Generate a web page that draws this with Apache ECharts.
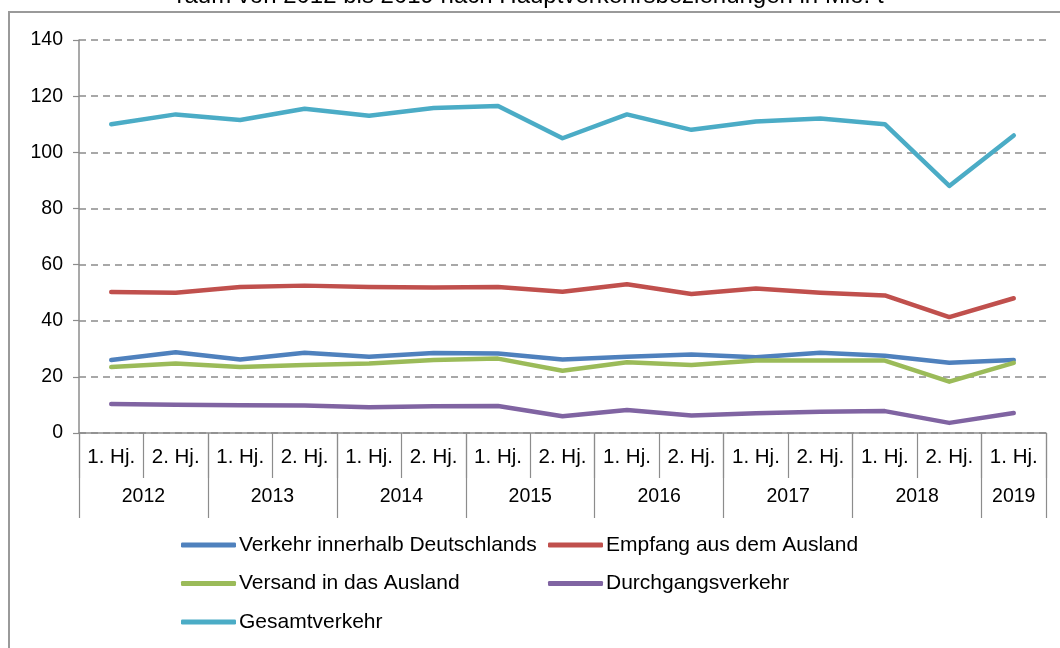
<!DOCTYPE html>
<html>
<head>
<meta charset="utf-8">
<script src="https://cdn.jsdelivr.net/npm/echarts@6/dist/echarts.min.js"></script>
<style>
html,body{margin:0;padding:0;background:#fff;overflow:hidden;}
#frame{position:absolute;left:8px;top:11px;width:1100px;height:700px;border-left:2px solid #9a9a9a;border-top:2px solid #9a9a9a;}
#c{position:absolute;left:0;top:0;width:1060px;height:648px;}
</style>
</head>
<body>
<div id="frame"></div>
<div id="c"></div>
<script>
const halfYears = ['1. Hj.','2. Hj.','1. Hj.','2. Hj.','1. Hj.','2. Hj.','1. Hj.','2. Hj.','1. Hj.','2. Hj.','1. Hj.','2. Hj.','1. Hj.','2. Hj.','1. Hj.'];
const years = ['2012','2013','2014','2015','2016','2017','2018','2019'];
const yearTickPos = [0,2,4,6,8,10,12,14,15];
const yearLabelPos = [1,3,5,7,9,11,13,14.5];
const yTicks = [0,20,40,60,80,100,120,140];

const innerhalb = [26, 28.8, 26.2, 28.6, 27.2, 28.5, 28.3, 26.2, 27.2, 28, 27, 28.6, 27.5, 25, 26];
const empfang   = [50.2, 50, 52, 52.5, 52, 51.8, 52, 50.3, 53, 49.5, 51.5, 50, 49, 41.3, 48];
const versand   = [23.5, 24.8, 23.5, 24.2, 24.8, 26, 26.5, 22.2, 25.2, 24.2, 25.8, 25.8, 25.8, 18.3, 25];
const durchgang = [10.3, 10.1, 9.9, 9.8, 9.2, 9.5, 9.6, 6, 8.2, 6.2, 7, 7.6, 7.8, 3.6, 7.1];
const gesamt    = [110, 113.5, 111.5, 115.5, 113, 115.8, 116.5, 105, 113.5, 108, 111, 112, 110, 88, 106];

const names = ['Verkehr innerhalb Deutschlands','Empfang aus dem Ausland','Versand in das Ausland','Durchgangsverkehr','Gesamtverkehr'];
const colors = ['#4F81BD','#C0504D','#9BBB59','#8064A2','#4BACC6'];
const values = [innerhalb, empfang, versand, durchgang, gesamt];

const FONT = 'Liberation Sans, Arial, sans-serif';
const axisGrey = '#8c8c8c';

const chart = echarts.init(document.getElementById('c'));
const legendCommon = {
  orient: 'vertical',
  icon: 'roundRect',
  itemWidth: 55,
  itemHeight: 5,
  itemGap: 16.5,
  textStyle: {fontFamily: FONT, fontSize: 21, color: '#000', lineHeight: 22, padding: [0,0,0,-2]},
  padding: 0,
  selectedMode: false
};
chart.setOption({
  animation: false,
  title: {
    text: 'raum von 2012 bis 2019 nach Hauptverkehrsbeziehungen in Mio. t',
    left: 'center', top: -16, padding: 0,
    textStyle: {fontFamily: FONT, fontSize: 24, fontWeight: 'normal', color: '#000'}
  },
  grid: {left: 79, right: 14, top: 40, bottom: 215, containLabel: false},
  legend: [
    Object.assign({}, legendCommon, {left: 181, top: 534, data: [names[0], names[2], names[4]]}),
    Object.assign({}, legendCommon, {left: 548, top: 534, data: [names[1], names[3]]})
  ],
  xAxis: [
    {
      type: 'category', data: halfYears, boundaryGap: true, position: 'bottom',
      axisLine: {show: true, lineStyle: {color: axisGrey, width: 1.5}},
      axisTick: {show: true, interval: 0, length: 45, lineStyle: {color: axisGrey, width: 1.2}},
      axisLabel: {interval: 0, margin: 14, fontFamily: FONT, fontSize: 20.5, color: '#000'},
      splitLine: {show: false}
    },
    {
      type: 'value', min: 0, max: 15, position: 'bottom',
      axisLine: {show: false},
      axisTick: {show: true, customValues: yearTickPos, length: 85, lineStyle: {color: axisGrey, width: 1.2}},
      axisLabel: {
        customValues: yearLabelPos, margin: 54, fontFamily: FONT, fontSize: 19.5, color: '#000',
        formatter: function (v) { const i = yearLabelPos.indexOf(v); return i >= 0 ? years[i] : ''; }
      },
      splitLine: {show: false}
    }
  ],
  yAxis: {
    type: 'value', min: yTicks[0], max: yTicks[yTicks.length - 1], interval: 20,
    axisLine: {show: true, lineStyle: {color: axisGrey, width: 1.5}},
    axisTick: {show: true, length: 6, lineStyle: {color: axisGrey, width: 1.2}},
    axisLabel: {margin: 16, fontFamily: FONT, fontSize: 19.5, color: '#000'},
    splitLine: {show: true, lineStyle: {type: [7, 5], color: axisGrey, width: 1.5}}
  },
  series: names.map((n, i) => ({
    name: n, type: 'line', data: values[i], xAxisIndex: 0,
    symbol: 'none', showSymbol: false,
    lineStyle: {color: colors[i], width: 4.5, cap: 'round', join: 'round'},
    itemStyle: {color: colors[i]}
  }))
});
</script>
</body>
</html>
